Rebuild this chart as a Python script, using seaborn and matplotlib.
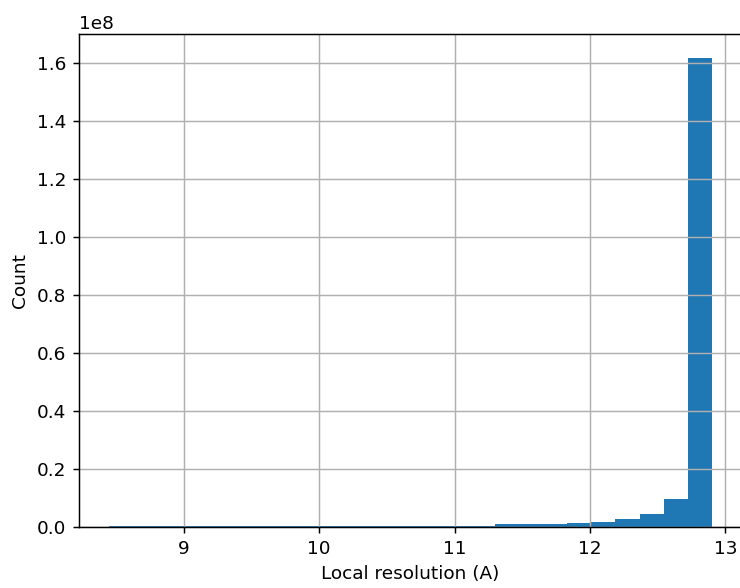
import numpy as np
import pandas as pd
import seaborn as sns
import matplotlib
matplotlib.use("Agg")
import matplotlib.pyplot as plt

# histogram of local resolution values (counts per bin)
bin_lo = 8.45
bin_hi = 12.90
n_bins = 25
counts = [4.0e5, 4.0e5, 4.0e5, 4.0e5, 4.0e5, 4.0e5, 4.0e5, 4.0e5,
          4.0e5, 4.0e5, 4.0e5, 4.0e5, 4.0e5, 4.0e5, 4.0e5, 4.5e5,
          9.0e5, 9.5e5, 1.0e6, 1.4e6, 1.8e6, 2.6e6, 4.6e6, 9.5e6, 1.62e8]

edges = np.linspace(bin_lo, bin_hi, n_bins + 1)
centers = (edges[:-1] + edges[1:]) / 2
df = pd.DataFrame({"res": centers, "count": counts})

dpi = 133
fig = plt.figure(figsize=(740 / dpi, 588 / dpi), dpi=dpi)
ax = fig.add_axes([0.1068, 0.1037, 0.896, 0.8384])

sns.histplot(data=df, x="res", weights="count", bins=n_bins,
             binrange=(bin_lo, bin_hi), ax=ax,
             color="#1f77b4", alpha=1, edgecolor="none", linewidth=0)

ax.grid(True)
ax.set_xlabel("Local resolution (A)")
ax.set_ylabel("Count")
ax.set_xlim(bin_lo - 0.05 * (bin_hi - bin_lo), bin_hi + 0.05 * (bin_hi - bin_lo))
ax.set_ylim(0, max(counts) * 1.05)

fig.savefig("out.png", dpi=dpi)
